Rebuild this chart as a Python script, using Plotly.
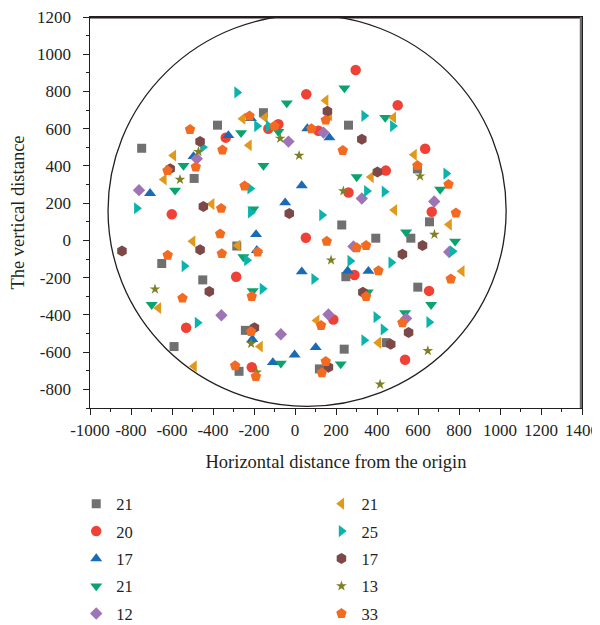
import plotly.graph_objects as go

# ---- data ----
sq_x = [-154, -378, -748, -492, 261, 597, 656, 228, -284, -650, -450, -242, -590, -273, 394, 565, 248, 599, 445, 240, 119]
sq_y = [686, 619, 495, 333, 619, 384, 100, 83, -30, -124, -212, -483, -570, -703, 12, 12, -195, -251, -549, -584, -690]

ci_x = [296, 55, -81, -338, 501, 114, 635, 443, 261, 667, -601, 53, -287, -531, -211, 290, 654, 187, 537, -130]
ci_y = [915, 785, 624, 552, 726, 589, 492, 375, 257, 154, 141, 14, -195, -469, -681, -186, -271, -425, -641, 600]

tu_x = [60, -325, -495, -707, 33, -48, 168, -190, -186, 33, -208, -108, -2, 257, 358, 101, -215]
tu_y = [601, 564, 451, 253, 295, 203, 552, 32, -53, -168, -531, -655, -614, -163, -165, -575, 655]

td_x = [-40, 241, 440, -81, -263, -544, -154, -585, -203, 301, 708, -252, -206, -699, -69, 781, 542, 355, 664, 537, 223]
td_y = [738, 818, 660, 584, 578, 402, 402, 269, 168, 341, 274, -89, -271, -345, -660, -5, 44, -278, -345, -389, -664]

di_x = [-32, -479, -761, 139, 679, 326, -359, -69, 752, 285, 163, 542]
di_y = [531, 439, 270, 579, 209, 225, -402, -504, -62, -32, -398, -419]

tl_x = [-255, -146, -224, -593, -639, -406, 150, 168, 480, 581, 485, 371, -499, -279, -666, -170, -492, 752, 814, 106, 407]
tl_y = [654, 660, 511, 456, 327, 195, 752, 672, 660, 460, 163, 340, -5, -27, -363, -570, -676, 85, -165, -430, -549]

tr_x = [-283, -186, -129, -450, -219, -772, -216, 337, 477, 737, 350, 436, 131, -540, -235, -159, -476, 768, 269, 469, 93, 396, 431, 654, 337]
tr_y = [795, 614, 614, 500, 279, 173, 150, 669, 614, 359, 265, 262, 136, -138, -106, -260, -442, -58, -110, -119, -207, -412, -478, -439, -536]

hx_x = [-463, -609, -447, -28, 158, 326, 402, -844, -463, -418, -198, 622, 524, 331, 554, 467, 163]
hx_y = [531, 385, 182, 145, 694, 543, 368, -57, -50, -274, -469, -27, -74, -278, -495, -557, -681]

st_x = [-72, 20, -471, -561, 610, 236, -683, -214, -187, 680, 176, 648, 415]
st_y = [548, 456, 477, 327, 345, 265, -262, -554, -708, 32, -106, -593, -773]

pe_x = [-222, -100, 80, -512, -354, -484, -622, -246, -360, 150, 233, 597, 749, 785, -365, -357, -621, -182, -211, -549, -214, -292, -191, 155, 301, 347, 407, 347, 760, 127, 524, 150, 131]
pe_y = [668, 614, 600, 596, 486, 394, 375, 292, 172, 646, 483, 402, 301, 147, 35, -71, -80, -62, -301, -310, -490, -673, -731, -5, -39, -27, -163, -301, -207, -457, -442, -650, -711]

series_names = ["21", "20", "17", "21", "12", "21", "25", "17", "13", "33"]
x_ticks = list(range(-1000, 1401, 200))
y_ticks = list(range(-800, 1201, 200))

FONT = "Liberation Serif, Times New Roman, serif"
TXT = "#231f20"

specs = [
    (sq_x, sq_y, "square", "#707072", 9),
    (ci_x, ci_y, "circle", "#ef4136", 10.5),
    (tu_x, tu_y, "triangle-up", "#1a6bb5", 10.5),
    (td_x, td_y, "triangle-down", "#09a36e", 10.5),
    (di_x, di_y, "diamond", "#9f74b6", 9.5),
    (tl_x, tl_y, "triangle-left", "#e0991c", 10.5),
    (tr_x, tr_y, "triangle-right", "#0ab4ad", 10.5),
    (hx_x, hx_y, "hexagon", "#7c4848", 11),
    (st_x, st_y, "star", "#7f8021", 8),
    (pe_x, pe_y, "pentagon", "#f36b21", 11),
]

fig = go.Figure()
for i, (xs, ys, sym, col, sz) in enumerate(specs):
    fig.add_trace(go.Scatter(
        x=xs, y=ys, mode="markers", name=series_names[i],
        marker=dict(symbol=sym, color=col, size=sz, line=dict(width=0)),
        legend="legend" if i < 5 else "legend2",
        legendgroup=f"g{i}",
    ))

# enclosing circle
fig.add_shape(type="circle", xref="x", yref="y", x0=-912, x1=1030, y0=-891, y1=1212,
              line=dict(color="#231f20", width=1.3), layer="below")
# top border (black) and right border (grey), placed just inside the frame
fig.add_shape(type="line", xref="x", yref="y", x0=-1000, x1=1400, y0=1196, y1=1196,
              line=dict(color="#231f20", width=1.6), layer="above")
fig.add_shape(type="line", xref="x", yref="y", x0=1395, x1=1395, y0=-900, y1=1200,
              line=dict(color="#6b6b6b", width=2.4), layer="above")

axis_common = dict(
    showgrid=False, zeroline=False, showline=True, linecolor="#231f20", linewidth=1.2,
    ticks="outside", ticklen=6, tickwidth=1.2, tickcolor="#231f20",
    tickfont=dict(family=FONT, size=17, color=TXT),
    minor=dict(ticks="outside", ticklen=3, tickwidth=1, tickcolor="#231f20"),
    automargin=False, ticklabeloverflow="allow",
)

fig.update_xaxes(range=[-1000, 1400], tickvals=x_ticks, ticktext=[str(v) for v in x_ticks],
                 minor_dtick=100, minor_tick0=0, mirror=True,
                 title=dict(text="Horizontal distance from the origin", font=dict(family=FONT, size=18.5, color=TXT), standoff=16),
                 **axis_common)
fig.update_yaxes(range=[-900, 1200], tickvals=y_ticks, ticktext=[str(v) + "\u2002" for v in y_ticks],
                 minor_dtick=100, minor_tick0=0, mirror=True,
                 title=dict(text="The vertical distance", font=dict(family=FONT, size=18.5, color=TXT), standoff=8),
                 **axis_common)

legend_common = dict(font=dict(family=FONT, size=16.5, color=TXT), bgcolor="rgba(0,0,0,0)",
                     orientation="v", tracegroupgap=3, itemsizing="trace",
                     yanchor="top", xanchor="left")
# the page body adds an 8px offset, so margins are shifted by 8px
fig.update_layout(
    width=600, height=625,
    margin=dict(l=82, r=26, t=9, b=225, autoexpand=False),
    plot_bgcolor="white", paper_bgcolor="white",
    font=dict(family=FONT, color=TXT),
    showlegend=True,
    legend=dict(x=-0.028, y=-0.2006, **legend_common),
    legend2=dict(x=0.4704, y=-0.2006, **legend_common),
)

fig.write_html("out.html")
